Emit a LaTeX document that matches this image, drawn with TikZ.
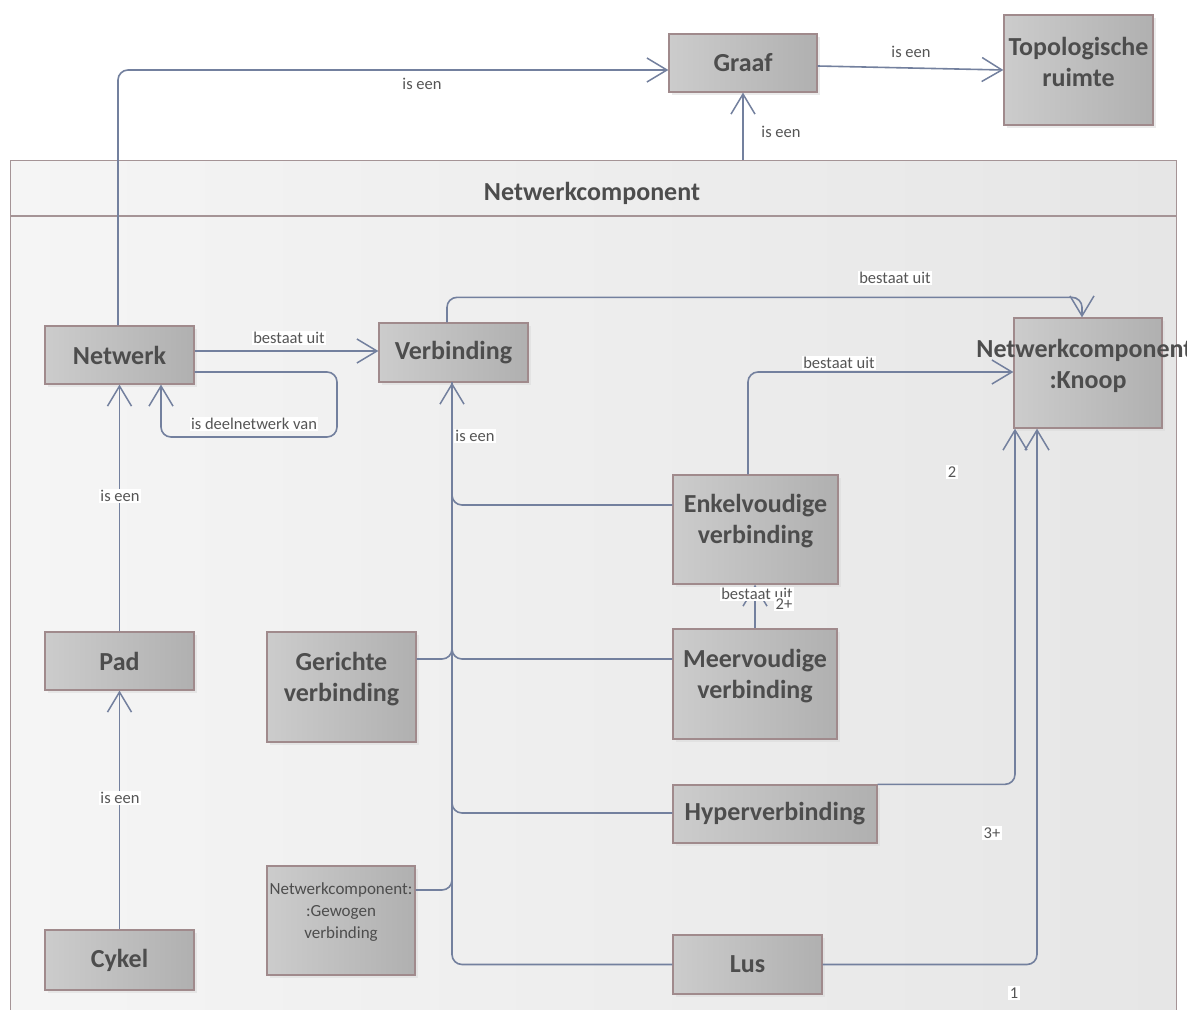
\documentclass[tikz,border=0pt]{standalone}
\usepackage{fontspec}
\setmainfont{Carlito}
\usetikzlibrary{arrows.meta,shadows,calc}

\definecolor{boxL}{RGB}{204,204,204}
\definecolor{boxR}{RGB}{176,176,176}
\definecolor{boxEdge}{RGB}{160,138,140}
\definecolor{boxText}{RGB}{77,77,77}
\definecolor{connClr}{RGB}{115,128,158}
\definecolor{pkgL}{RGB}{245,245,245}
\definecolor{pkgR}{RGB}{230,230,230}
\definecolor{pkgEdge}{RGB}{165,148,150}
\definecolor{lblText}{RGB}{85,85,85}

\tikzset{
  umlbox/.style={draw=boxEdge, line width=1.3pt, left color=boxL, right color=boxR,
    drop shadow={shadow xshift=3pt, shadow yshift=-3pt, fill=black!15},
    inner sep=0pt, text=boxText, font=\fontsize{26}{31}\selectfont\bfseries, align=center},
  boxtext/.style={text=boxText, font=\fontsize{26}{31}\selectfont\bfseries, align=center, inner sep=0pt},
  smalltext/.style={text=boxText, font=\fontsize{17}{22}\selectfont, align=center, inner sep=0pt},
  pkg/.style={draw=pkgEdge, line width=1.3pt, left color=pkgL, right color=pkgR, inner sep=0pt},
  conn/.style={draw=connClr, line width=1.6pt, rounded corners=10pt},
  gen/.style={conn, -{Straight Barb[length=20pt, width=24pt, line width=1.5pt]}},
  lbl/.style={text=lblText, font=\fontsize{16.5}{20}\selectfont, fill=white, inner sep=1.5pt},
}

\begin{document}
\begin{tikzpicture}[x=1pt,y=-1pt]
\useasboundingbox (0,0) rectangle (1187,1010);
\fill[white] (0,0) rectangle (1187,1010);

% package frame with its header
\node[pkg, anchor=north west, minimum width=1166, minimum height=870] (nc) at (10,160) {};
\coordinate (hdr) at (0,216);
\draw[draw=pkgEdge, line width=1.3pt] (nc.west |- hdr) -- (nc.east |- hdr);
\node[boxtext] (nc-title) at (592,193) {Netwerkcomponent};

% classes
\node[umlbox, minimum width=148, minimum height=58] (graaf) at (743,63) {Graaf};
\node[umlbox, minimum width=149, minimum height=110] (topo) at (1078.5,70) {};
\node[boxtext] (topo-t) at (1078.5,62) {Topologische\\ruimte};

\node[umlbox, minimum width=149, minimum height=58] (netwerk) at (119.5,355) {Netwerk};
\node[umlbox, minimum width=149, minimum height=59] (verb) at (453.5,352.5) {Verbinding};
\node[umlbox, minimum width=148, minimum height=110] (knoop) at (1088,373) {};

\node[umlbox, minimum width=165, minimum height=109] (enk) at (755.5,529.5) {};
\node[boxtext] (enk-t) at (755.5,521.5) {Enkelvoudige\\verbinding};
\node[umlbox, minimum width=164, minimum height=110] (meer) at (755,684) {};
\node[boxtext] (meer-t) at (755,676) {Meervoudige\\verbinding};
\node[umlbox, minimum width=149, minimum height=110] (ger) at (341.5,687) {};
\node[boxtext] (ger-t) at (341.5,679) {Gerichte\\verbinding};
\node[umlbox, minimum width=204, minimum height=58] (hyper) at (775,814) {Hyperverbinding};
\node[umlbox, minimum width=149, minimum height=59] (lus) at (747.5,964.5) {Lus};
\node[umlbox, minimum width=148, minimum height=109] (gew) at (341,920.5) {};
\node[smalltext] (gew-t) at (341,912) {Netwerkcomponent:\\:Gewogen\\verbinding};

\node[umlbox, minimum width=149, minimum height=58] (pad) at (119.5,661) {Pad};
\node[umlbox, minimum width=149, minimum height=60] (cykel) at (119.5,960) {Cykel};

% connectors
\draw[gen] ([xshift=-1.5pt]netwerk.north) |- ([yshift=-7pt]graaf.west);
\draw[gen, rounded corners=0pt] ([yshift=-3pt]graaf.east) -- (topo.west);
\draw[gen] (graaf.south |- nc.north) -- (graaf.south);
\draw[gen] ([yshift=4pt]netwerk.east) -- ([yshift=1.5pt]verb.west);
\coordinate (loopc) at (337,437);
\draw[gen] ([yshift=-17pt]netwerk.east) -| (loopc) -| ([xshift=41.5pt]netwerk.south);
\draw[gen] (pad.north) -- (netwerk.south);
\draw[gen] (cykel.north) -- (pad.south);
\draw[gen] ([xshift=-6.5pt]verb.north) -- ++(0,-25) -| ([xshift=-6pt]knoop.north);
\draw[gen] ([xshift=-7.5pt]enk.north) |- ([yshift=1pt]knoop.west);

\coordinate (trunk) at ([xshift=-1.5pt]verb.south);
\draw[gen] (lus.west) -| (trunk);
\draw[conn] ([yshift=24.5pt]enk.west) -| (trunk);
\draw[conn] ([yshift=25pt]meer.west) -| (trunk);
\draw[conn] ([yshift=28pt]ger.east) -| (trunk);
\draw[conn] ([yshift=1pt]hyper.west) -| (trunk);
\draw[conn] ([yshift=30.5pt]gew.east) -| (trunk);

\draw[gen] (meer.north) -- (meer.north |- enk.south);
\draw[gen] (hyper.north east) -| ([xshift=-73pt]knoop.south);
\draw[gen] (lus.east) -| ([xshift=-51pt]knoop.south);

% text of the node whose name runs past the frame
\node[boxtext] (knoop-t) at (1088,366) {Netwerkcomponent:\\:Knoop};

% connector labels
\node[lbl] (l1) at (422,84) {is een};
\node[lbl] (l2) at (911,52) {is een};
\node[lbl] (l3) at (781,132) {is een};
\node[lbl] (l4) at (289,338) {bestaat uit};
\node[lbl] (l5) at (254,424) {is deelnetwerk van};
\node[lbl] (l6) at (120,496) {is een};
\node[lbl] (l7) at (120,798) {is een};
\node[lbl] (l8) at (895,278) {bestaat uit};
\node[lbl] (l9) at (839,363) {bestaat uit};
\node[lbl] (l10) at (475,436) {is een};
\node[lbl] (l11) at (757,594) {bestaat uit};
\node[lbl] (l12) at (784,604) {2+};
\node[lbl] (l13) at (952,472) {2};
\node[lbl] (l14) at (992,833) {3+};
\node[lbl] (l15) at (1014,993) {1};
\end{tikzpicture}
\end{document}
